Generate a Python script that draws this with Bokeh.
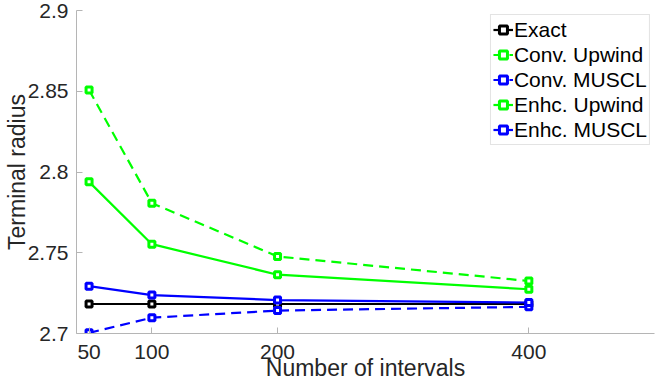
from bokeh.plotting import figure
from bokeh.models import Range1d, FixedTicker, Legend, LegendItem
from bokeh.embed import file_html
from bokeh.resources import INLINE

intervals = [50, 100, 200, 400]
exact = [2.71828, 2.71828, 2.71828, 2.71828]
conv_upwind = [2.8508, 2.7807, 2.7477, 2.7325]
conv_muscl = [2.7004, 2.7098, 2.7142, 2.7165]
enhc_upwind = [2.7939, 2.7553, 2.7364, 2.7274]
enhc_muscl = [2.7293, 2.7238, 2.7207, 2.7192]

x_ticks = [50, 100, 200, 400]
y_ticks = [2.7, 2.75, 2.8, 2.85, 2.9]
y_tick_labels = ["2.7", "2.75", "2.8", "2.85", "2.9"]
x_title = "Number of intervals"
y_title = "Terminal radius"

FONT = "Liberation Sans"
GREEN = "#00ff00"
BLUE = "#0000ff"
BLACK = "#000000"

p = figure(width=655, height=383, output_backend="svg", toolbar_location=None,
           x_range=Range1d(40, 500), y_range=Range1d(2.7, 2.9),
           min_border_left=10, min_border_right=1, min_border_top=10, min_border_bottom=10)
p.outline_line_color = None
p.xgrid.visible = False
p.ygrid.visible = False
p.background_fill_color = "white"

for ax in (p.xaxis[0], p.yaxis[0]):
    ax.axis_line_color = "#b5b5b5"
    ax.axis_line_width = 1
    ax.major_tick_line_color = "#b5b5b5"
    ax.major_tick_in = 6
    ax.major_tick_out = 0
    ax.minor_tick_line_color = None
    ax.major_label_text_font = FONT
    ax.major_label_text_font_size = "21px"
    ax.major_label_text_color = "#262626"
    ax.axis_label_text_font = FONT
    ax.axis_label_text_font_size = "23px"
    ax.axis_label_text_font_style = "normal"
    ax.axis_label_text_color = "#262626"

p.xaxis.ticker = FixedTicker(ticks=x_ticks)
p.yaxis.ticker = FixedTicker(ticks=y_ticks)
p.yaxis.major_label_overrides = {t: l for t, l in zip(y_ticks, y_tick_labels)}
p.xaxis.axis_label = x_title
p.yaxis.axis_label = y_title
p.xaxis.major_label_standoff = 11
p.yaxis.major_label_standoff = 8
p.xaxis.axis_label_standoff = -7
p.yaxis.axis_label_standoff = -5

series = [
    ("Exact", exact, BLACK, "solid"),
    ("Conv. Upwind", conv_upwind, GREEN, "10 6"),
    ("Conv. MUSCL", conv_muscl, BLUE, "10 6"),
    ("Enhc. Upwind", enhc_upwind, GREEN, "solid"),
    ("Enhc. MUSCL", enhc_muscl, BLUE, "solid"),
]

items = []
for name, ys, color, dash in series:
    ln = p.line(intervals, ys, line_color=color, line_width=2.2, line_dash=dash)
    sc = p.scatter(intervals, ys, marker="square", size=6, line_color=color,
                   line_width=3, fill_color="white")
    items.append(LegendItem(label=name, renderers=[ln, sc]))

legend = Legend(items=items, location="top_right", margin=4, padding=2, spacing=0,
                glyph_width=20, glyph_height=25, label_height=25, label_standoff=1,
                label_text_font=FONT, label_text_font_size="21px",
                label_text_color="#000000",
                border_line_color="#c8c8c8", border_line_width=1,
                background_fill_color="white", background_fill_alpha=1.0)
p.add_layout(legend)

open("out.html", "w").write(file_html(p, INLINE))
